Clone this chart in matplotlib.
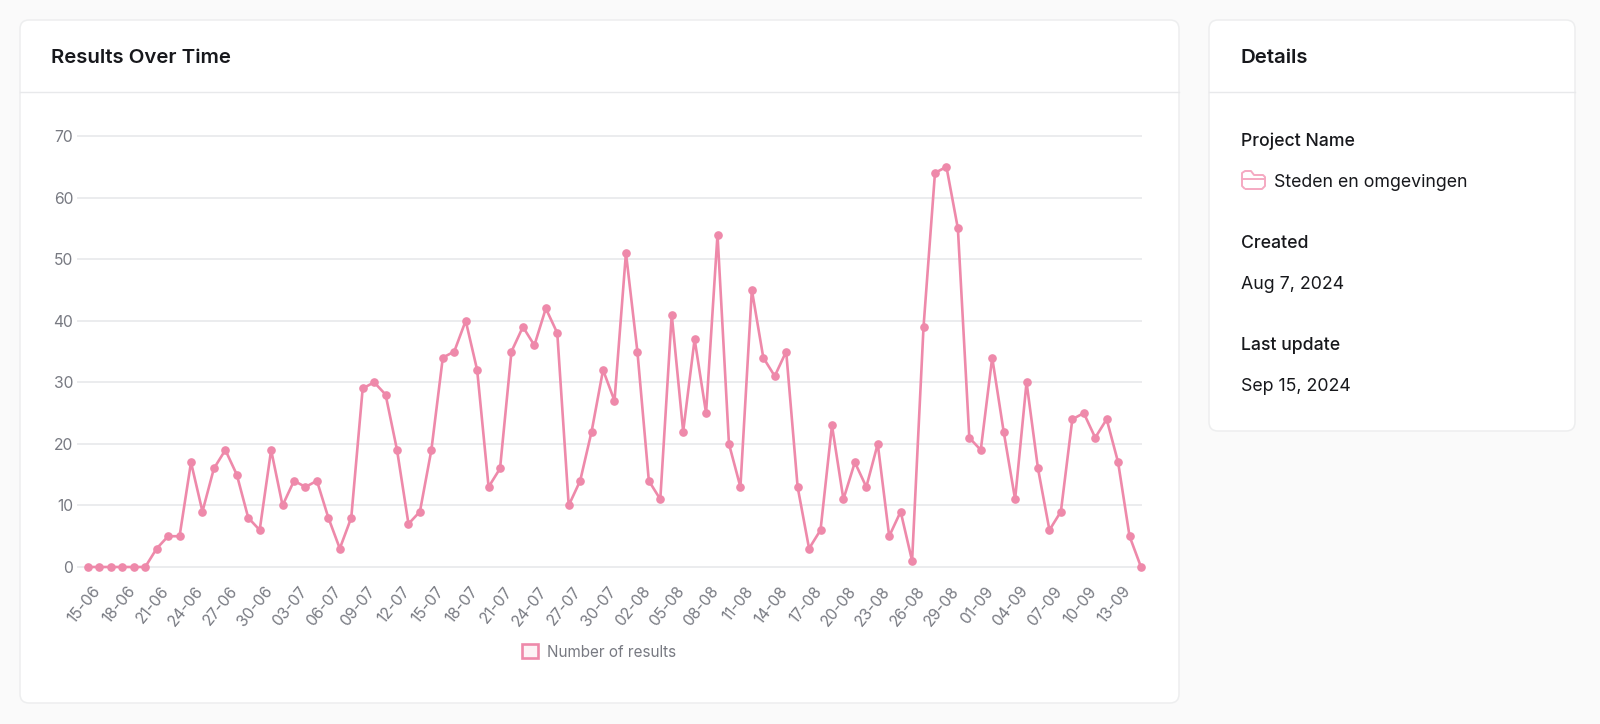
"""Results over time dashboard card, drawn on a pixel-sized figure."""
import matplotlib
matplotlib.use("Agg")
import matplotlib.pyplot as plt
import pandas as pd
from matplotlib.patches import FancyBboxPatch, Patch, PathPatch
from matplotlib.path import Path
from matplotlib.transforms import ScaledTranslation

W, H = 1600, 724
PINK = "#ee89aa"
GRID = "#ebecee"
MUTED = "#787a82"
INK = "#17181c"
ICON = "#f5a9c2"

plt.rcParams["font.family"] = ["Inter", "DejaVu Sans"]

start_date = "2024-06-15"
results = [0, 0, 0, 0, 0, 0, 3, 5, 5, 17, 9, 16, 19, 15, 8, 6, 19, 10, 14, 13, 14, 8, 3, 8,
           29, 30, 28, 19, 7, 9, 19, 34, 35, 40, 32, 13, 16, 35, 39, 36, 42, 38, 10, 14,
           22, 32, 27, 51, 35, 14, 11, 41, 22, 37, 25, 54, 20, 13, 45, 34, 31, 35, 13, 3,
           6, 23, 11, 17, 13, 20, 5, 9, 1, 39, 64, 65, 55, 21, 19, 34, 22, 11, 30, 16, 6,
           9, 24, 25, 21, 24, 17, 5, 0]
y_ticks = [0, 10, 20, 30, 40, 50, 60, 70]
series_name = "Number of results"
details = [("Project Name", "Steden en omgevingen"),
           ("Created", "Aug 7, 2024"),
           ("Last update", "Sep 15, 2024")]

dates = pd.date_range(start_date, periods=len(results))

fig = plt.figure(figsize=(W / 100, H / 100), dpi=100, facecolor="#fafafa")

# background layer in pixel coordinates (y downwards, like the screenshot)
bg = fig.add_axes([0, 0, 1, 1])
bg.set_xlim(0, W); bg.set_ylim(H, 0); bg.axis("off")


def card(x0, y0, x1, y1, header_y):
    bg.add_patch(FancyBboxPatch((x0, y0), x1 - x0, y1 - y0,
                                boxstyle="round,pad=0,rounding_size=9",
                                fc="white", ec="#edeeef", lw=1.1))
    bg.plot([x0, x1], [header_y, header_y], color="#e8e9eb", lw=1.0)


card(20, 20, 1179, 703, 92)
card(1209, 20, 1575, 431, 92)

bg.text(51, 58, "Results Over Time", fontsize=14.7, fontweight="semibold", color=INK, va="center")
bg.text(1240, 58, "Details", fontsize=14.7, fontweight="semibold", color=INK, va="center")

for i, (label, value) in enumerate(details):
    top = 141 + i * 102
    bg.text(1241, top, label, fontsize=12.7, fontweight="medium", color=INK, va="center")
    x = 1274 if i == 0 else 1241
    bg.text(x, top + 41.5, value, fontsize=12.8, color=INK, va="center")

# folder icon
fx, fy = 1242, 171
folder = Path([(fx + 3, fy + 18), (fx + 20, fy + 18), (fx + 23, fy + 15), (fx + 23, fy + 6),
               (fx + 21, fy + 4), (fx + 12, fy + 4), (fx + 9, fy), (fx + 3, fy),
               (fx, fy + 2), (fx, fy + 15), (fx + 3, fy + 18)],
              [Path.MOVETO] + [Path.LINETO] * 10)
bg.add_patch(PathPatch(folder, fc="none", ec=ICON, lw=1.4, joinstyle="round"))
bg.plot([fx, fx + 23], [fy + 7.5, fy + 7.5], color=ICON, lw=1.4)

# chart
left, right, top, bottom = 78, 1141, 136, 567
ax = fig.add_axes([left / W, 1 - bottom / H, (right - left) / W, (bottom - top) / H])
ax.patch.set_alpha(0)
ax.plot(range(len(results)), results, color=PINK, lw=1.9, marker="o", ms=5.2,
        solid_joinstyle="miter", clip_on=False, zorder=3, label=series_name)
ax.set_xlim(-10 / 11.45, len(results) - 1)
ax.set_ylim(0, 70)
ax.set_yticks(y_ticks)
ax.set_xticks(range(0, len(results), 3))
ax.set_xticklabels([d.strftime("%d-%m") for d in dates[::3]], rotation=51, ha="right",
                   rotation_mode="anchor")
ax.tick_params(axis="both", length=0, labelsize=11.3, labelcolor=MUTED)
ax.tick_params(axis="x", pad=12)
ax.tick_params(axis="y", pad=3.5)
nudge = ScaledTranslation(4 / 100, 0, fig.dpi_scale_trans)
for lab in ax.get_xticklabels():
    lab.set_transform(lab.get_transform() + nudge)
ax.grid(axis="y", color=GRID, lw=1.4, clip_on=False)
ax.set_axisbelow(True)
for s in ax.spines.values():
    s.set_visible(False)

handle = Patch(facecolor="#fdf3f6", edgecolor=PINK, lw=1.9, label=series_name)
leg = ax.legend(handles=[handle], loc="center", bbox_to_anchor=(0.49, -0.197), frameon=False,
                fontsize=11, handlelength=1.05, handleheight=1.05, handletextpad=0.55,
                labelcolor=MUTED)

fig.savefig("out.png", dpi=100, facecolor=fig.get_facecolor())
